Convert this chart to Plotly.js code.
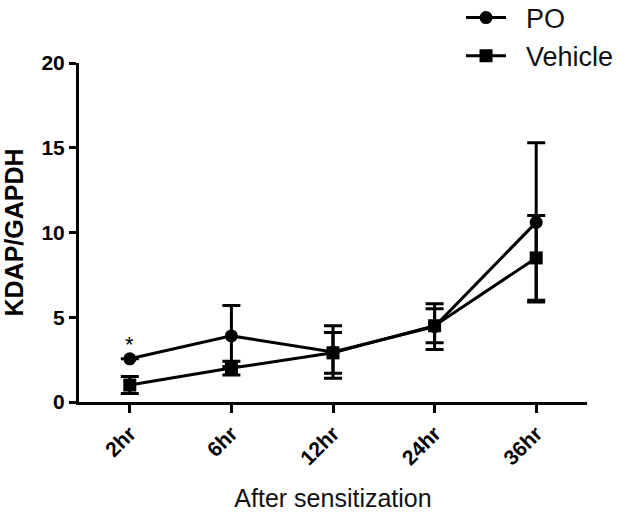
<!DOCTYPE html>
<html>
<head>
<meta charset="utf-8">
<script src="https://cdn.plot.ly/plotly-3.0.1.min.js"></script>
<style>
  body { margin: 0; background: #fff; }
  #chart { width: 623px; height: 517px; }
</style>
</head>
<body>
<div id="chart"></div>
<script>
// Time points after sensitization
const timePoints = ["2hr", "6hr", "12hr", "24hr", "36hr"];

// PO group: mean and error (2hr error bar is hidden behind the marker)
const poMean = [2.55, 3.9, 2.95, 4.45, 10.6];
const poErr = [null, 1.8, 1.55, 1.35, 4.7];

// Vehicle group: mean and error
const vehicleMean = [1.0, 2.0, 2.9, 4.5, 8.5];
const vehicleErr = [0.5, 0.4, 1.2, 1.0, 2.5];

const yTicks = [0, 5, 10, 15, 20];

const FONT = "Liberation Sans, Arial, sans-serif";
const NBSP = "\u00a0\u00a0";

function makeTrace(name, y, err, symbol) {
  return {
    x: timePoints,
    y: y,
    name: NBSP + name,
    type: "scatter",
    mode: "lines+markers",
    line: { color: "black", width: 3 },
    marker: { symbol: symbol, size: 13, color: "black" },
    error_y: { type: "data", array: err, visible: true, color: "black", thickness: 3, width: 9 }
  };
}

const traces = [
  makeTrace("PO", poMean, poErr, "circle"),
  makeTrace("Vehicle", vehicleMean, vehicleErr, "square")
];

const layout = {
  width: 623,
  height: 517,
  margin: { l: 79, r: 36, t: 63, b: 115, autoexpand: false },
  paper_bgcolor: "white",
  plot_bgcolor: "white",
  font: { family: FONT, color: "black" },
  showlegend: true,
  legend: {
    x: 0.752, y: 1.205, xanchor: "left", yanchor: "top",
    font: { family: FONT, size: 27, color: "#111" },
    itemwidth: 40,
    bgcolor: "rgba(0,0,0,0)"
  },
  xaxis: {
    type: "category",
    range: [-0.5, 4.5],
    showline: true, linecolor: "black", linewidth: 3,
    ticks: "outside", ticklen: 8, tickwidth: 3, tickcolor: "black",
    tickangle: -45,
    tickfont: { family: FONT, size: 21, weight: "bold", color: "black" },
    showgrid: false, zeroline: false,
    title: { text: "After sensitization", font: { family: FONT, size: 25, color: "#111" }, standoff: 22 }
  },
  yaxis: {
    range: [0, 20],
    tickvals: yTicks,
    showline: true, linecolor: "black", linewidth: 3,
    ticks: "outside", ticklen: 7, tickwidth: 3, tickcolor: "black",
    tickfont: { family: FONT, size: 21, weight: "bold", color: "black" },
    showgrid: false, zeroline: false,
    title: { text: "KDAP/GAPDH", font: { family: FONT, size: 25, weight: "bold", color: "black" }, standoff: 14 }
  },
  annotations: [
    { x: "2hr", y: 3.4, text: "*", showarrow: false, yanchor: "middle",
      font: { family: FONT, size: 22, color: "black" } }
  ]
};

Plotly.newPlot("chart", traces, layout, { displayModeBar: false, staticPlot: true });
</script>
</body>
</html>
